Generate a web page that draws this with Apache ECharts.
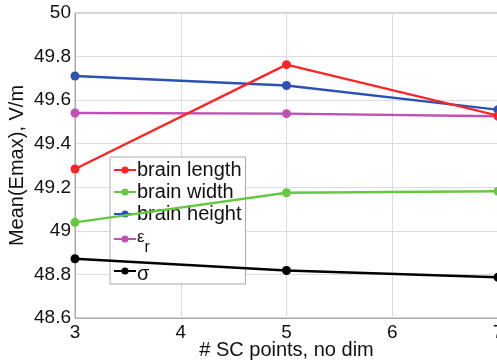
<!DOCTYPE html>
<html>
<head>
<meta charset="utf-8">
<script src="https://cdn.jsdelivr.net/npm/echarts@6/dist/echarts.min.js"></script>
<style>
html,body{margin:0;padding:0;background:#fff;}
#chart{width:497px;height:364px;}
</style>
</head>
<body>
<div id="chart"></div>
<script>
// Number of stochastic collocation points
const scPoints = [3, 5, 7];

// Mean(Emax) in V/m for each varied parameter
const brainLength = [49.284, 49.763, 49.529];
const brainWidth  = [49.039, 49.175, 49.182];
const brainHeight = [49.711, 49.667, 49.556];
const epsR        = [49.541, 49.538, 49.526];
const sigma       = [48.872, 48.818, 48.787];

const seriesNames = ['brain length', 'brain width', 'brain height', 'eps_r', 'sigma'];
const seriesColors = ['#ff2424', '#66c841', '#2a52b5', '#c24fb4', '#000000'];
const seriesValues = [brainLength, brainWidth, brainHeight, epsR, sigma];

const chart = echarts.init(document.getElementById('chart'));
const font = 'Liberation Sans, Arial, sans-serif';

const series = seriesNames.map((name, i) => ({
  name: name,
  type: 'line',
  data: scPoints.map((x, j) => [x, seriesValues[i][j]]),
  symbol: 'circle',
  symbolSize: 9,
  lineStyle: { width: 2.4, color: seriesColors[i] },
  itemStyle: { color: seriesColors[i] },
  emphasis: { disabled: true },
  z: 10 - i
}));

chart.setOption({
  animation: false,
  grid: {
    left: 75, right: -1, top: 13, bottom: 46,
    outerBoundsMode: 'none', containLabel: false,
    show: true, borderColor: '#a8a8a8', borderWidth: 1
  },
  xAxis: {
    type: 'value', min: 3, max: 7, interval: 1,
    name: '# SC points, no dim', nameLocation: 'middle', nameGap: 22,
    nameMoveOverlap: false,
    nameTextStyle: { fontFamily: font, fontSize: 20, color: '#111' },
    axisLine: { show: true, lineStyle: { color: '#a8a8a8' } },
    axisTick: { show: false },
    axisLabel: { fontFamily: font, fontSize: 19, color: '#111', margin: 5 },
    splitLine: { show: true, lineStyle: { color: '#dcdcdc', width: 1 } }
  },
  yAxis: {
    type: 'value', min: 48.6, max: 50, interval: 0.2,
    name: 'Mean(Emax), V/m', nameLocation: 'middle', nameGap: 48,
    nameMoveOverlap: false,
    nameTextStyle: { fontFamily: font, fontSize: 20, color: '#111' },
    axisLine: { show: true, lineStyle: { color: '#a8a8a8' } },
    axisTick: { show: false },
    axisLabel: {
      fontFamily: font, fontSize: 19, color: '#111', margin: 4,
      formatter: v => String(parseFloat(v.toFixed(1)))
    },
    splitLine: { show: true, lineStyle: { color: '#dcdcdc', width: 1 } }
  },
  legend: {
    orient: 'vertical',
    left: 110, top: 157,
    padding: [3, 4, 0, 3],
    backgroundColor: '#fff',
    borderColor: '#a8a8a8', borderWidth: 1, borderRadius: 0,
    itemWidth: 22, itemHeight: 9, itemGap: 2,
    data: seriesNames,
    formatter: function (name) {
      if (name === 'eps_r') return '{g|ε}{sub|r}';
      if (name === 'sigma') return '{s|σ}';
      return '{t|' + name + '}';
    },
    textStyle: {
      fontFamily: font, fontSize: 20, color: '#111', padding: [0, 0, 0, -4],
      rich: {
        t: { fontFamily: font, fontSize: 20, color: '#111', lineHeight: 22 },
        g: { fontFamily: font, fontSize: 17, color: '#111', lineHeight: 34, verticalAlign: 'middle', padding: [0, 0, 4, 0] },
        sub: { fontFamily: font, fontSize: 16, color: '#111', lineHeight: 34, verticalAlign: 'bottom', padding: [14, 0, 0, 0] },
        s: { fontFamily: font, fontSize: 20, color: '#111', lineHeight: 26, padding: [6, 0, 0, 0] }
      }
    }
  },
  series: series
});
</script>
</body>
</html>
